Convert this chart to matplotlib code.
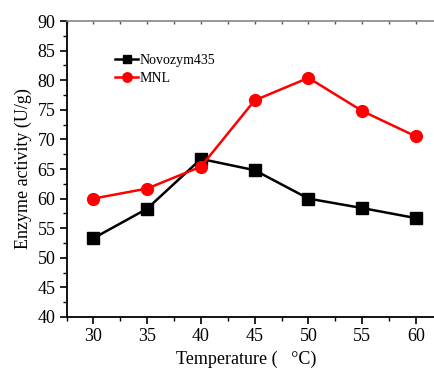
#!/usr/bin/env python3

import numpy as np
import matplotlib
matplotlib.use('Agg')
import matplotlib.pyplot as plt
from matplotlib.ticker import MultipleLocator

temperature = [30, 35, 40, 45, 50, 55, 60]
novozym435 = [53.3, 58.3, 66.7, 64.8, 60.0, 58.4, 56.7]
mnl = [60.0, 61.7, 65.4, 76.6, 80.4, 74.8, 70.5]

plt.rcParams['font.family'] = ['Liberation Serif', 'DejaVu Serif']
plt.rcParams['mathtext.fontset'] = 'stix'


def main():
    fig = plt.figure(figsize=(4.35, 3.69), dpi=100)
    # axes run past the right edge, like the cropped original
    ax = fig.add_axes([0.153, 0.141, 0.865, 0.802])

    ax.plot(temperature, novozym435, color='black', lw=1.8, marker='s',
            ms=8, label='Novozym435', clip_on=False, zorder=3)
    ax.plot(temperature, mnl, color='red', lw=1.8, marker='o',
            ms=8.5, label='MNL', clip_on=False, zorder=3)

    ax.set_xlim(27.5, 62.5)
    ax.set_ylim(40, 90)
    ax.xaxis.set_major_locator(MultipleLocator(5))
    ax.xaxis.set_minor_locator(MultipleLocator(2.5))
    ax.yaxis.set_major_locator(MultipleLocator(5))
    ax.yaxis.set_minor_locator(MultipleLocator(2.5))
    ax.set_xticks([30, 35, 40, 45, 50, 55, 60])

    ax.tick_params(which='major', direction='out', length=5, width=1.2,
                   labelsize=13, pad=3, colors='black')
    ax.tick_params(which='minor', direction='out', length=3, width=1.0)

    for side in ['left', 'bottom']:
        ax.spines[side].set_linewidth(1.3)
    ax.spines['right'].set_visible(False)
    ax.spines['top'].set_color('#888888')
    ax.spines['top'].set_linewidth(1.2)

    top = ax.secondary_xaxis('top')
    top.xaxis.set_major_locator(MultipleLocator(2.5))
    top.tick_params(direction='in', length=2, width=1, colors='#555555',
                    labeltop=False)
    top.spines['top'].set_visible(False)

    ax.set_xlabel('Temperature (   \u00b0C)', fontsize=13, labelpad=4)
    ax.set_ylabel('Enzyme activity (U/g)', fontsize=13, labelpad=4)
    ax.xaxis.set_label_coords(0.5 - 0.02 / 0.865, -0.115)

    ax.legend(loc='upper left', bbox_to_anchor=(0.128, 0.888), frameon=False,
              fontsize=10, handlelength=1.7, handletextpad=0.1,
              labelspacing=0.35, borderaxespad=0, borderpad=0,
              markerscale=0.8)

    fig.savefig('out.png', dpi=100)


if __name__ == '__main__':
    main()
